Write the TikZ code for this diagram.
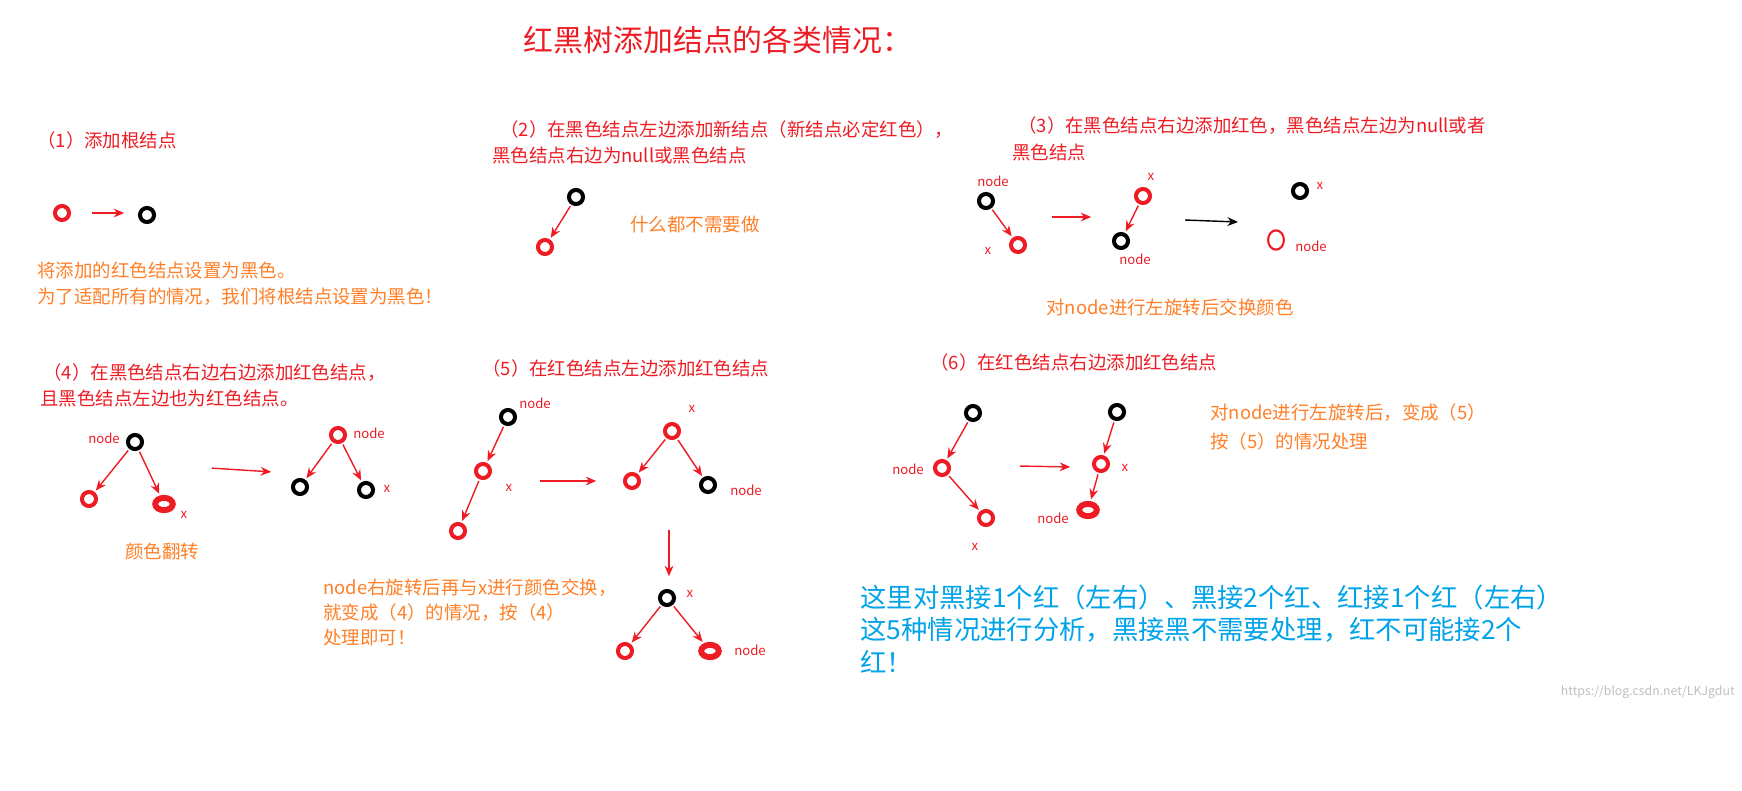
\documentclass[tikz,border=0pt]{standalone}
\usepackage{fontspec}
\setmainfont{Noto Sans CJK SC}
\usetikzlibrary{arrows.meta,shapes.geometric}
\definecolor{rd}{RGB}{237,28,36}
\definecolor{og}{RGB}{255,127,39}
\definecolor{bl}{RGB}{0,162,232}
\begin{document}
\begin{tikzpicture}[x=0.02cm,y=-0.02cm,
 rn/.style={circle,draw=rd,line width=2.3pt,fill=white,minimum size=8pt,inner sep=0},
 bn/.style={circle,draw=black,line width=2.3pt,fill=white,minimum size=8pt,inner sep=0},
 hn/.style={ellipse,draw=rd,line width=1.2pt,minimum width=9pt,minimum height=11pt,inner sep=0},
 en/.style={ellipse,draw=rd,line width=3.4pt,fill=white,minimum width=10pt,minimum height=7pt,inner sep=0},
 ar/.style={-{Stealth[length=6pt,width=5pt]},rd,line width=0.8pt,shorten <=1pt,shorten >=1pt},
 ak/.style={-{Stealth[length=6pt,width=5pt]},black,line width=0.8pt},
 hd/.style={anchor=west,text=rd,font=\fontsize{10.5pt}{12pt}\selectfont,inner sep=0},
 ot/.style={anchor=west,text=og,font=\fontsize{10.5pt}{12pt}\selectfont,inner sep=0},
 lb/.style={text=rd,font=\fontsize{7.5pt}{8pt}\selectfont,inner sep=0}]
\useasboundingbox (0,0) rectangle (1742,791);
\node[text=rd,font=\fontsize{17pt}{20pt}\selectfont] (title) at (718,40) {红黑树添加结点的各类情况：};
% (1)
\node[hd] (t1) at (37,140) {（1）添加根结点};
\node[rn] (a1) at (62,213) {}; \node[bn] (a2) at (147,215) {};
\coordinate (c1) at (90,213); \coordinate (c2) at (126,213);
\draw[ar] (c1) -- (c2);
\node[ot] (o1) at (37,270) {将添加的红色结点设置为黑色。};
\node[ot] (o1b) at (37,297) {为了适配所有的情况，我们将根结点设置为黑色！};
% (2)
\node[hd] (t2) at (500,130) {（2）在黑色结点左边添加新结点（新结点必定红色），};
\node[hd] (t2b) at (492,155) {黑色结点右边为null或黑色结点};
\node[bn] (b1) at (576,197) {}; \node[rn] (b2) at (545,247) {};
\draw[ar] (b1) -- (b2);
\node[ot] (o2) at (630,224) {什么都不需要做};
% (3)
\node[hd] (t3) at (1018,126) {（3）在黑色结点右边添加红色，黑色结点左边为null或者};
\node[hd] (t3b) at (1012,152) {黑色结点};
\node[bn] (d1) at (986,201) {}; \node[lb] at (993,181) {node};
\node[rn] (d2) at (1018,245) {}; \node[lb] at (988,251) {x};
\draw[ar] (d1) -- (d2);
\coordinate (e1) at (1050,217); \coordinate (e2) at (1093,217);
\draw[ar] (e1) -- (e2);
\node[rn] (d3) at (1143,196) {}; \node[lb] at (1151,177) {x};
\node[bn] (d4) at (1121,241) {}; \node[lb] at (1135,259) {node};
\draw[ar] (d3) -- (d4);
\coordinate (e3) at (1185,220); \coordinate (e4) at (1238,222);
\draw[ak] (e3) -- (e4);
\node[bn] (d5) at (1300,191) {}; \node[lb] at (1320,186) {x};
\node[hn] (d6) at (1276,240) {}; \node[lb] at (1311,246) {node};
\node[text=og,font=\fontsize{10.5pt}{12pt}\selectfont] (o3) at (1170,307) {对node进行左旋转后交换颜色};
% (4)
\node[hd] (t4) at (40,373) {\,（4）在黑色结点右边右边添加红色结点，};
\node[hd] (t4b) at (40,398) {且黑色结点左边也为红色结点。};
\node[bn] (f1) at (135,442) {}; \node[lb] at (104,438) {node};
\node[rn] (f2) at (89,499) {}; \node[en] (f3) at (164,504) {}; \node[lb] at (184,515) {x};
\draw[ar] (f1) -- (f2); \draw[ar] (f1) -- (f3);
\coordinate (g1) at (210,468); \coordinate (g2) at (273,472);
\draw[ar] (g1) -- (g2);
\node[rn] (f4) at (338,435) {}; \node[lb] at (369,433) {node};
\node[bn] (f5) at (300,487) {}; \node[bn] (f6) at (366,490) {}; \node[lb] at (387,489) {x};
\draw[ar] (f4) -- (f5); \draw[ar] (f4) -- (f6);
\node[ot] (o4) at (125,551) {颜色翻转};
% (5)
\node[hd] (t5) at (482,368) {（5）在红色结点左边添加红色结点};
\node[bn] (h1) at (508,417) {}; \node[lb] at (535,403) {node};
\node[rn] (h2) at (483,471) {}; \node[lb] at (509,488) {x};
\node[rn] (h3) at (458,531) {};
\draw[ar] (h1) -- (h2); \draw[ar] (h2) -- (h3);
\coordinate (i1) at (538,481); \coordinate (i2) at (598,481);
\draw[ar] (i1) -- (i2);
\node[rn] (h4) at (672,431) {}; \node[lb] at (692,409) {x};
\node[rn] (h5) at (632,481) {}; \node[bn] (h6) at (708,485) {}; \node[lb] at (746,490) {node};
\draw[ar] (h4) -- (h5); \draw[ar] (h4) -- (h6);
\coordinate (i3) at (669,528); \coordinate (i4) at (669,578);
\draw[ar] (i3) -- (i4);
\node[bn] (h7) at (667,598) {}; \node[lb] at (690,594) {x};
\node[rn] (h8) at (625,651) {}; \node[en] (h9) at (710,651) {}; \node[lb] at (750,650) {node};
\draw[ar] (h7) -- (h8); \draw[ar] (h7) -- (h9);
\node[ot] (o5) at (323,588) {node右旋转后再与x进行颜色交换，};
\node[ot] (o5b) at (323,613) {就变成（4）的情况，按（4）};
\node[ot] (o5c) at (323,638) {处理即可！};
% (6)
\node[hd] (t6) at (930,362) {（6）在红色结点右边添加红色结点};
\node[bn] (j1) at (973,413) {};
\node[rn] (j2) at (942,468) {}; \node[lb] at (908,469) {node};
\node[rn] (j3) at (986,518) {}; \node[lb] at (975,547) {x};
\draw[ar] (j1) -- (j2); \draw[ar] (j2) -- (j3);
\coordinate (k1) at (1018,466); \coordinate (k2) at (1072,467);
\draw[ar] (k1) -- (k2);
\node[bn] (j4) at (1117,412) {};
\node[rn] (j5) at (1101,464) {}; \node[lb] at (1125,468) {x};
\node[en] (j6) at (1088,510) {}; \node[lb] at (1053,518) {node};
\draw[ar] (j4) -- (j5); \draw[ar] (j5) -- (j6);
\node[ot] (o6) at (1210,413) {对node进行左旋转后，变成（5）};
\node[ot] (o6b) at (1210,441) {按（5）的情况处理};
% blue
\node[anchor=west,text=bl,font=\fontsize{15pt}{17pt}\selectfont,inner sep=0] (u1) at (860,597) {这里对黑接1个红（左右）、黑接2个红、红接1个红（左右）};
\node[anchor=west,text=bl,font=\fontsize{15pt}{17pt}\selectfont,inner sep=0] (u2) at (860,630) {这5种情况进行分析，黑接黑不需要处理，红不可能接2个};
\node[anchor=west,text=bl,font=\fontsize{15pt}{17pt}\selectfont,inner sep=0] (u3) at (860,662) {红！};
\node[anchor=east,text=black!25,font=\fontsize{7pt}{8pt}\selectfont,inner sep=0] (wm) at (1735,692) {https://blog.csdn.net/LKJgdut};
\end{tikzpicture}
\end{document}
